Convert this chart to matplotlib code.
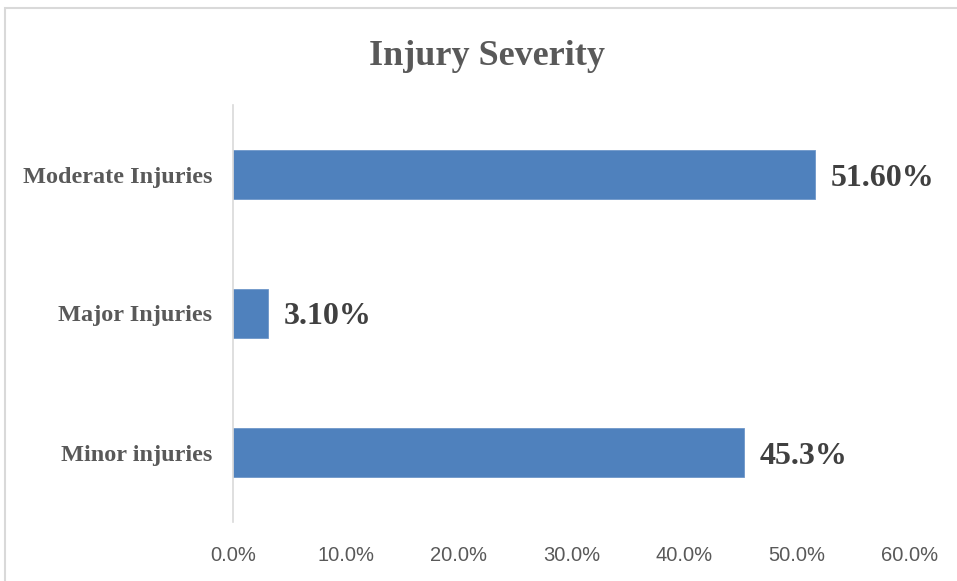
import matplotlib
matplotlib.use("Agg")
import matplotlib.pyplot as plt
from matplotlib.patches import Rectangle
from matplotlib.ticker import PercentFormatter

# data (bottom to top, as drawn)
categories = ["Minor injuries", "Major Injuries", "Moderate Injuries"]
values = [0.453, 0.031, 0.516]
value_labels = ["45.3%", "3.10%", "51.60%"]
x_ticks = [0.0, 0.1, 0.2, 0.3, 0.4, 0.5, 0.6]

W, H = 957, 581
fig = plt.figure(figsize=(W / 100, H / 100), dpi=100)
ax = fig.add_axes([233 / W, 1 - 522 / H, (910 - 233) / W, (522 - 105) / H])

serif = ["Liberation Serif", "DejaVu Serif"]
sans = ["Liberation Sans", "DejaVu Sans"]

ypos = list(range(len(categories)))
ax.barh(ypos, values, height=0.35, color="#4f81bd", edgecolor="#6f97c9", linewidth=0.6)

for y, v, lab in zip(ypos, values, value_labels):
    ax.annotate(lab, xy=(v, y), xytext=(11, 0), textcoords="offset points",
                va="center_baseline", ha="left", fontsize=23, fontweight="bold",
                family=serif, color="#404040")

ax.set_xlim(0, 0.6)
ax.set_ylim(-0.5, 2.5)
ax.set_xticks(x_ticks)
ax.xaxis.set_major_formatter(PercentFormatter(1.0, decimals=1))
ax.set_yticks(ypos)
ax.set_yticklabels(categories)

for lab in ax.get_yticklabels():
    lab.set_family(serif)
    lab.set_fontweight("bold")
    lab.set_fontsize(17.5)
    lab.set_color("#595959")
for lab in ax.get_xticklabels():
    lab.set_family(sans)
    lab.set_fontsize(14.5)
    lab.set_color("#595959")

ax.tick_params(axis="y", length=0, pad=15)
ax.tick_params(axis="x", length=0, pad=17)
for side in ["top", "right", "bottom"]:
    ax.spines[side].set_visible(False)
ax.spines["left"].set_color("#d9d9d9")
ax.spines["left"].set_linewidth(1.2)

fig.text(0.509, 1 - 65 / H, "Injury Severity", ha="center", va="baseline",
         fontsize=26, fontweight="bold", family=serif, color="#595959")

# chart frame
fig.patches.append(Rectangle((5 / W, -0.02), 1.0, 1 - 8 / H + 0.02,
                             transform=fig.transFigure, fill=False,
                             edgecolor="#d9d9d9", linewidth=1.5))

fig.savefig("out.png", dpi=100)
